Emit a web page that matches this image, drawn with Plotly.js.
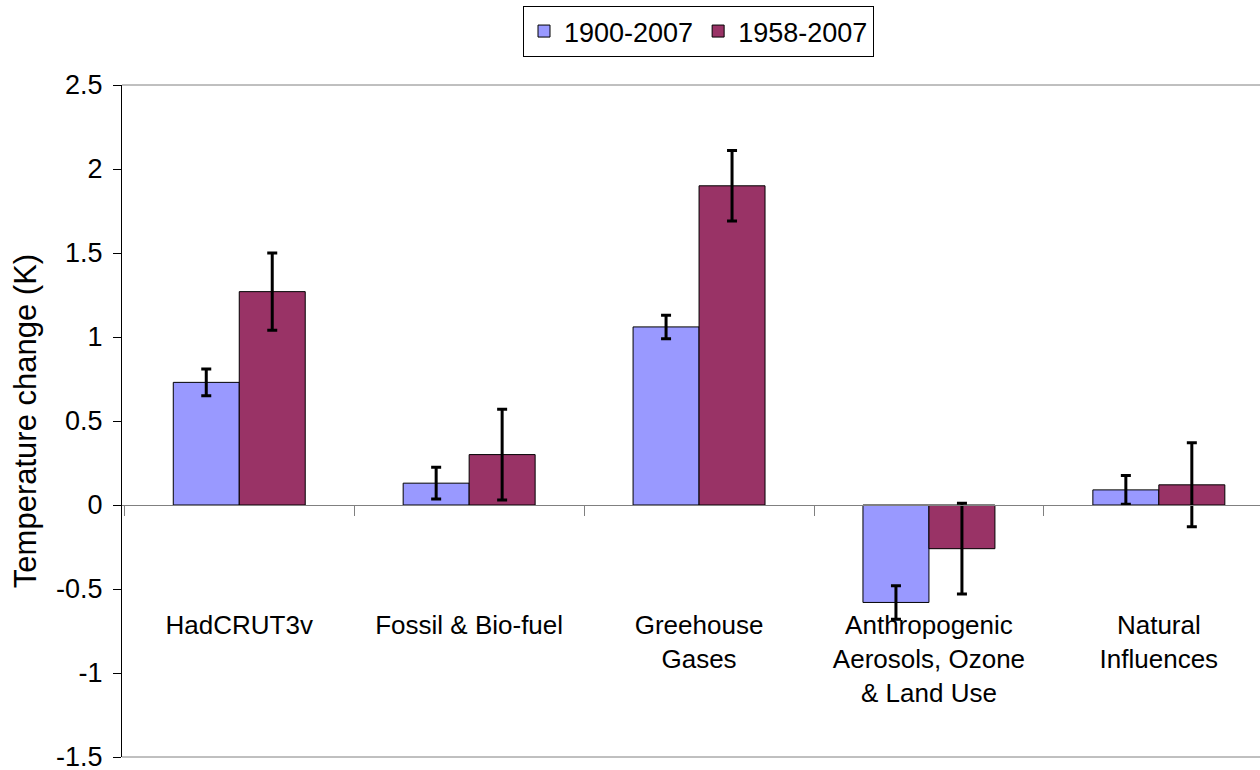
<!DOCTYPE html>
<html>
<head>
<meta charset="utf-8">
<script src="https://cdn.plot.ly/plotly-3.0.1.min.js"></script>
<style>html,body{margin:0;padding:0;background:#fff;}#chart{width:1260px;height:770px;}</style>
</head>
<body>
<div id="chart"></div>
<script>
const categories = ["HadCRUT3v", "Fossil &amp; Bio-fuel", "Greehouse<br>Gases", "Anthropogenic<br>Aerosols, Ozone<br>&amp; Land Use", "Natural<br>Influences"];
const seriesNames = ["1900-2007", "1958-2007"];
const values1900 = [0.73, 0.13, 1.06, -0.58, 0.09];
const errors1900 = [0.08, 0.095, 0.07, 0.10, 0.085];
const values1958 = [1.27, 0.30, 1.90, -0.26, 0.12];
const errors1958 = [0.23, 0.27, 0.21, 0.27, 0.25];
const yTicks = [-1.5, -1, -0.5, 0, 0.5, 1, 1.5, 2, 2.5];
const yTickLabels = ["-1.5", "-1", "-0.5", "0", "0.5", "1", "1.5", "2", "2.5"];

const font = {family: "Liberation Sans, Arial, sans-serif", size: 27, color: "#000"};

const mk = (name, y, err, color) => ({
  type: "bar", name: name, x: categories, y: y,
  marker: {color: color, line: {color: "#000", width: 1}},
  error_y: {type: "data", array: err, visible: true, color: "#000", thickness: 3, width: 5}
});

const data = [
  mk(seriesNames[0], values1900, errors1900, "#9999FF"),
  mk(seriesNames[1], values1958, errors1958, "#993366")
];

const layout = {
  width: 1260, height: 770,
  margin: {l: 122, r: 0, t: 85, b: 13},
  paper_bgcolor: "#fff", plot_bgcolor: "#fff",
  font: font,
  barmode: "group", bargap: 0.426, bargroupgap: 0,
  showlegend: true,
  legend: {orientation: "h", x: 523 / 1260, xref: "container", xanchor: "left", y: 1 - 6 / 770, yref: "container", yanchor: "top",
           bordercolor: "#000", borderwidth: 1, font: {size: 27}, traceorder: "normal",
           itemwidth: 30, tracegroupgap: 0},
  xaxis: {
    type: "category", range: [-0.51, 4.44],
    anchor: "free", position: 0.375,
    showline: true, linecolor: "#808080", linewidth: 1,
    ticks: "outside", ticklen: 10, tickcolor: "#808080", tickson: "boundaries",
    ticklabelstandoff: 97,
    showgrid: false, zeroline: false, tickfont: {size: 26}
  },
  yaxis: {
    range: [-1.5, 2.5], tickvals: yTicks, ticktext: yTickLabels,
    showline: true, linecolor: "#000", linewidth: 1,
    ticks: "outside", ticklen: 8, tickcolor: "#000",
    ticklabelstandoff: 5, ticklabeloverflow: "allow",
    showgrid: false, zeroline: false, tickfont: {size: 27},
    title: {text: "Temperature change (K)", font: {size: 31}, standoff: 10}
  },
  shapes: [
    {type: "line", xref: "paper", yref: "paper", x0: 0, x1: 1, y0: 1, y1: 1, line: {color: "#808080", width: 1}},
    {type: "line", xref: "paper", yref: "paper", x0: 0, x1: 1, y0: 0, y1: 0, line: {color: "#808080", width: 1}}
  ]
};

Plotly.newPlot("chart", data, layout, {displayModeBar: false, staticPlot: true});
</script>
</body>
</html>
